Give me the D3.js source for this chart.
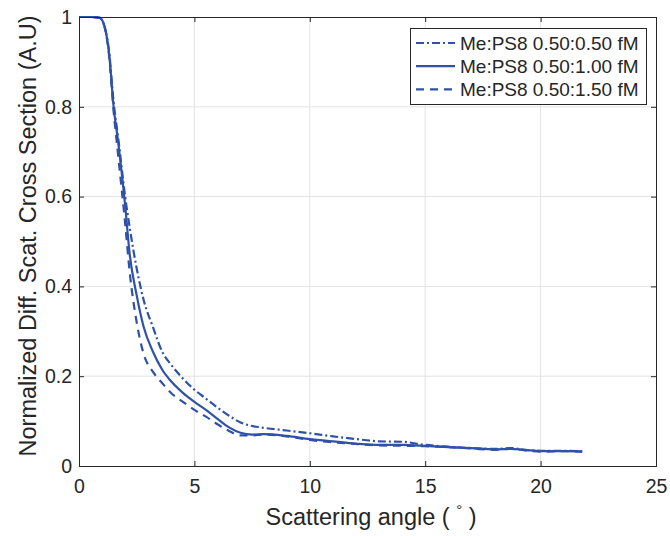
<!DOCTYPE html>
<html><head><meta charset="utf-8">
<script src="https://cdn.jsdelivr.net/npm/d3@7"></script>
<style>body{margin:0;background:#fff;} text{font-family:"Liberation Sans",Arial,Helvetica,sans-serif;}</style>
</head><body><svg id="c" width="670" height="536"></svg>
<script>
const angles = [0,0.5,0.9,1.1,1.3,1.5,1.7,2.0,2.2,2.5,2.8,3.2,3.6,4.0,4.5,5,5.5,6,6.5,7,7.5,8,9,10,11,12,13,14,15,16,17,18,18.7,19.3,20,21,21.8];
const s050 = [1,1,0.998,0.98,0.925,0.81,0.73,0.60,0.53,0.44,0.37,0.31,0.255,0.225,0.195,0.17,0.15,0.13,0.112,0.097,0.089,0.085,0.079,0.073,0.066,0.06,0.055,0.054,0.047,0.043,0.04,0.038,0.04,0.036,0.034,0.034,0.033];
const s100 = [1,1,0.998,0.98,0.92,0.80,0.72,0.58,0.47,0.38,0.31,0.255,0.215,0.188,0.163,0.143,0.125,0.105,0.086,0.074,0.07,0.071,0.067,0.06,0.055,0.05,0.047,0.047,0.045,0.042,0.04,0.037,0.038,0.036,0.033,0.033,0.032];
const s150 = [1,1,0.998,0.98,0.915,0.79,0.69,0.54,0.43,0.32,0.25,0.21,0.185,0.162,0.143,0.125,0.11,0.093,0.078,0.068,0.068,0.07,0.066,0.058,0.053,0.049,0.046,0.045,0.044,0.042,0.039,0.036,0.038,0.035,0.032,0.033,0.032];
const seriesNames = ["Me:PS8 0.50:0.50 fM","Me:PS8 0.50:1.00 fM","Me:PS8 0.50:1.50 fM"];
const xTicks = [0,5,10,15,20,25];
const yTicks = [0,0.2,0.4,0.6,0.8,1];

const color = "#2f52a8";
const dashes = ["8,3,2,3", null, "8,6"];
const series = [s050, s100, s150];

const svg = d3.select("#c");
const L=79, R=656, T=17, B=466;
const x = d3.scaleLinear().domain([0,25]).range([L,R]);
const y = d3.scaleLinear().domain([0,1]).range([B,T]);

// grid
svg.append("g").selectAll("line").data(xTicks.slice(1,-1)).join("line")
  .attr("x1",d=>x(d)).attr("x2",d=>x(d)).attr("y1",T).attr("y2",B)
  .attr("stroke","#e3e3e3").attr("stroke-width",1);
svg.append("g").selectAll("line").data(yTicks.slice(1,-1)).join("line")
  .attr("y1",d=>y(d)).attr("y2",d=>y(d)).attr("x1",L).attr("x2",R)
  .attr("stroke","#e3e3e3").attr("stroke-width",1);

// lines
const line = d3.line().x((d,i)=>x(angles[i])).y(d=>y(d)).curve(d3.curveMonotoneX);
series.forEach((s,k)=>{
  svg.append("path").datum(s).attr("d",line).attr("fill","none")
    .attr("stroke",color).attr("stroke-width",2.2)
    .attr("stroke-dasharray",dashes[k]);
});

// axes
const ax = "#262626";
const xa = svg.append("g").attr("transform",`translate(0,${B})`)
  .call(d3.axisBottom(x).tickValues(xTicks).tickSize(-5).tickPadding(13).tickFormat(d3.format("d")));
const xa2 = svg.append("g").attr("transform",`translate(0,${T})`)
  .call(d3.axisTop(x).tickValues(xTicks).tickSize(-5).tickFormat(""));
const ya = svg.append("g").attr("transform",`translate(${L},0)`)
  .call(d3.axisLeft(y).tickValues(yTicks).tickSize(-5).tickPadding(7).tickFormat(d=>d===0||d===1?d3.format("d")(d):d3.format(".1f")(d)));
const ya2 = svg.append("g").attr("transform",`translate(${R},0)`)
  .call(d3.axisRight(y).tickValues(yTicks).tickSize(-5).tickFormat(""));
[xa,xa2,ya,ya2].forEach(g=>{
  g.selectAll("path").attr("stroke",ax).attr("stroke-width",1);
  g.selectAll("line").attr("stroke",ax);
  g.selectAll("text").attr("fill",ax).style("font-size","19.5px").style("font-family","'Liberation Sans',Arial,sans-serif");
});

// axis labels
const xl = svg.append("text").attr("x",371).attr("y",525).attr("text-anchor","middle")
  .attr("fill",ax).style("font-size","23.5px");
xl.append("tspan").text("Scattering angle ( ");
xl.append("tspan").attr("dy",-10).style("font-size","15px").text("°");
xl.append("tspan").attr("dy",10).text(" )");
svg.append("text").attr("transform",`translate(36,236) rotate(-90)`).attr("text-anchor","middle")
  .attr("fill",ax).style("font-size","23.5px").text("Normalized Diff. Scat. Cross Section (A.U)");

// legend
const lg = svg.append("g");
lg.append("rect").attr("x",410.5).attr("y",28.5).attr("width",236).attr("height",76)
  .attr("fill","#fff").attr("stroke","#262626").attr("stroke-width",1);
seriesNames.forEach((n,k)=>{
  const cy = 43 + k*23.2;
  lg.append("line").attr("x1",416).attr("x2",455).attr("y1",cy).attr("y2",cy)
    .attr("stroke",color).attr("stroke-width",2.2).attr("stroke-dasharray",dashes[k]);
  lg.append("text").attr("x",460).attr("y",cy+7).attr("fill","#262626").style("font-size","19px").text(n);
});
</script></body></html>
